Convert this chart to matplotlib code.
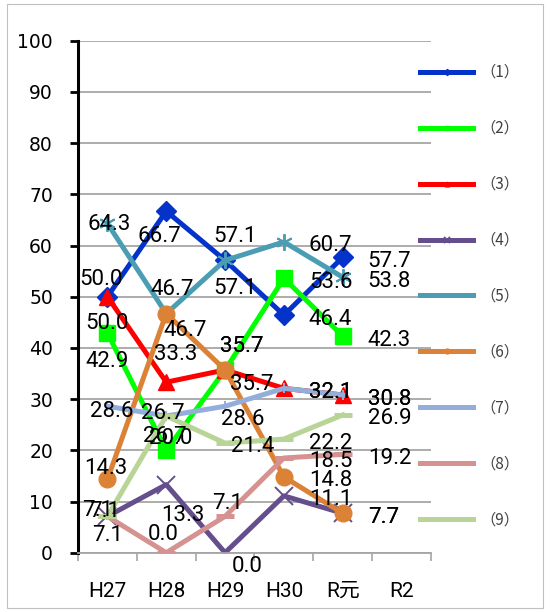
import matplotlib.pyplot as plt
from matplotlib.patches import Rectangle

years = ['H27', 'H28', 'H29', 'H30', 'R元', 'R2']
names = ['（1）', '（2）', '（3）', '（4）', '（5）', '（6）', '（7）', '（8）', '（9）']

s1 = [50.0, 66.7, 57.1, 46.4, 57.7]
s2 = [42.9, 20.0, 35.7, 53.6, 42.3]
s3 = [50.0, 33.3, 35.7, 32.1, 30.8]
s4 = [7.1, 13.3, 0.0, 11.1, 7.7]
s5 = [64.3, 46.7, 57.1, 60.7, 53.8]
s6 = [14.3, 46.7, 35.7, 14.8, 7.7]
s7 = [28.6, 26.7, 28.6, 32.1, 30.8]
s8 = [7.1, 0.0, 7.1, 18.5, 19.2]
s9 = [7.1, 26.7, 21.4, 22.2, 26.9]
series = [s1, s2, s3, s4, s5, s6, s7, s8, s9]

colors = ['#0433C9', '#00FF00', '#FF0000', '#644F8C', '#4B9DB4',
          '#DB8236', '#93AEDA', '#D69290', '#B9D497']
markers = ['D', 's', '^', 'x', (6, 2, 0), 'o', '|', '_', '_']
msizes = [10.5, 11, 11.5, 13, 12, 12, 7, 13, 13]

# label offsets (pixels, right / down) for the first three years
offs = [
    [(-6, -19), (-7, 23), (10, -26)],
    [(0, 26), (4, -14), (17, -25)],
    [(0, 25), (9, -30), (27, 13)],
    [(-10, -8), (17, 29), (22, 12)],
    [(2, -1), (6, -26), (10, 26)],
    [(-2, -13), (19, 15), (17, -25)],
    [(4, 3), (-3, -4), (18, 11)],
    [(0, 17), (-3, -20), (3, -15)],
    [(-3, -7), (-1, 19), (28, 1)],
]

fig = plt.figure(figsize=(5.5, 6.12), dpi=100)
ax = fig.add_axes([78 / 550, 59.3 / 612, 353 / 550, 512 / 612])

x = list(range(len(s1)))
handles = []
for i, vals in enumerate(series):
    if markers[i] == '_':
        mew = 3.6
    elif markers[i] in ('x', '|') or isinstance(markers[i], tuple):
        mew = 1.4
    else:
        mew = 1
    ln, = ax.plot(x, vals, color=colors[i], lw=3.6, marker=markers[i],
                  ms=msizes[i], mew=mew, mec=colors[i], mfc=colors[i],
                  zorder=2 + i * 0.1)
    handles.append(ln)
    for j, v in enumerate(vals):
        if j < 3:
            dx, dy = offs[i][j]
            ha = 'center'
        else:
            dx, dy = 25, 2
            ha = 'left'
        ax.annotate(f'{v:.1f}', (j, v), xytext=(dx, -dy - 2),
                    textcoords='offset pixels', ha=ha, va='center',
                    fontsize=16, family='Roboto', color='black',
                    annotation_clip=False, zorder=10)

ax.set_xlim(-0.5, 5.5)
ax.set_ylim(0, 100)
ax.set_yticks(range(0, 101, 10))
ax.set_xticks([k - 0.5 for k in range(7)])
ax.set_xticklabels([])
ax.set_xticks(range(6), minor=True)
ax.set_xticklabels(years, minor=True, fontsize=15,
                   family=['Roboto', 'Noto Sans CJK JP'])
ax.tick_params(axis='x', which='minor', length=0, pad=21)
ax.tick_params(axis='x', which='major', length=6, width=1.2, color='#A6A6A6')
ax.tick_params(axis='y', length=6, width=2, color='black', pad=12,
               labelsize=13.5)

ax.grid(axis='y', color='#A6A6A6', lw=1.3)
ax.set_axisbelow(True)
for s in ['top', 'right']:
    ax.spines[s].set_visible(False)
ax.spines['left'].set_linewidth(2.2)
ax.spines['left'].set_color('black')
ax.spines['bottom'].set_linewidth(1.3)
ax.spines['bottom'].set_color('#A6A6A6')

leg = fig.legend(handles, names, loc='upper left',
                 bbox_to_anchor=(420 / 550, 1 - 64 / 612), frameon=False,
                 borderpad=0, borderaxespad=0, handlelength=3.5,
                 handletextpad=0.45, labelspacing=2.55, markerscale=0.3,
                 prop={'family': ['Noto Sans CJK JP', 'DejaVu Sans'], 'size': 11})
for t in leg.get_texts():
    t.set_color('#404040')

fig.patches.append(Rectangle((7 / 550, 4 / 612), 536 / 550, 604 / 612,
                             transform=fig.transFigure, fill=False,
                             edgecolor='#BFBFBF', lw=0.8))

fig.savefig('out.png', dpi=100)
